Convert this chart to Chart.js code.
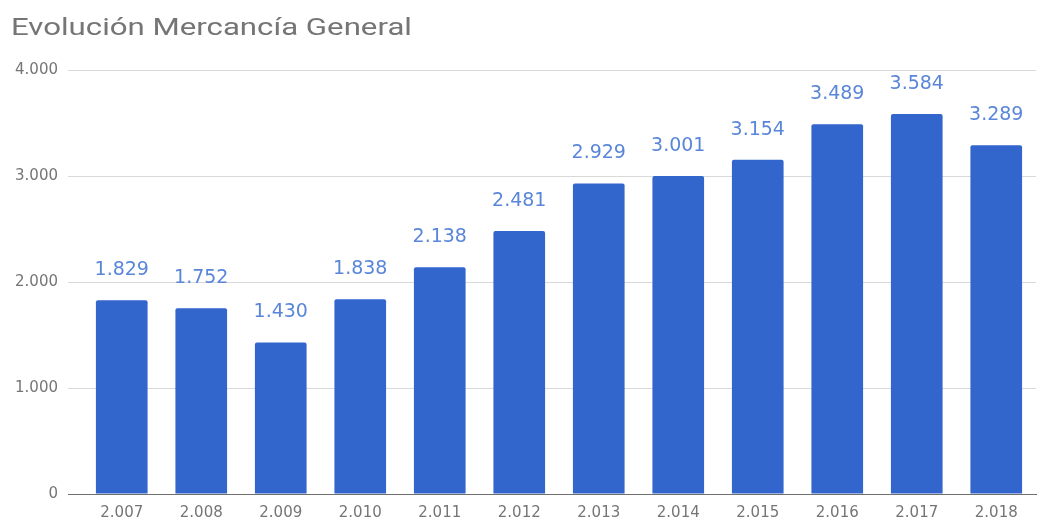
<!DOCTYPE html>
<html lang="es">
<head>
<meta charset="utf-8">
<title>Evolución Mercancía General</title>
<script src="https://cdn.jsdelivr.net/npm/chart.js@4/dist/chart.umd.min.js"></script>
<style>
    html, body { margin: 0; padding: 0; background: #fff; }
    #wrap { position: relative; width: 1037px; height: 518px; }
    #chartTitle {
        position: absolute;
        left: 11px;
        top: 15px;
        margin: 0;
        font: normal 24px/24px Roboto, sans-serif;
        color: #757575;
        white-space: nowrap;
        transform: scaleX(1.3);
        transform-origin: left top;
    }
</style>
</head>
<body>
<div id="wrap">
    <h1 id="chartTitle">Evolución Mercancía General</h1>
    <canvas id="mercanciaChart" width="1037" height="518"></canvas>
</div>
<script>

//Years and tonnage values
const years = [2007, 2008, 2009, 2010, 2011, 2012, 2013, 2014, 2015, 2016, 2017, 2018];
const tonnage = [1829, 1752, 1430, 1838, 2138, 2481, 2929, 3001, 3154, 3489, 3584, 3289];

//Y axis ticks
const yTicks = [0, 1000, 2000, 3000, 4000];

//Colours
const barColor = "#3366cc";
const labelColor = "#5a86d9";
const textGray = "#757575";

//Thousands separator with a dot (2007 -> 2.007)
function formatNumber(n) {

    return String(n).replace(/\B(?=(\d{3})+(?!\d))/g, ".");

}

//Value labels over each bar
const valueLabels = {

    id: "valueLabels",

    afterDatasetsDraw(chart) {

        const ctx = chart.ctx;
        const meta = chart.getDatasetMeta(0);

        ctx.save();
        ctx.font = "19px 'DejaVu Sans'";
        ctx.fillStyle = labelColor;
        ctx.textAlign = "center";
        ctx.textBaseline = "middle";

        meta.data.forEach((bar, i) => {

            ctx.fillText(formatNumber(tonnage[i]), bar.x, bar.y - 30);

        });

        ctx.restore();

    }

};

new Chart(document.querySelector("#mercanciaChart"), {

    type: "bar",

    data: {

        labels: years.map(formatNumber),

        datasets: [{

            label: "Mercancía General",

            data: tonnage,

            backgroundColor: barColor,

            borderRadius: 2,

            borderSkipped: "bottom",

            categoryPercentage: 1,

            barPercentage: 0.65

        }]

    },

    options: {

        responsive: false,

        animation: false,

        layout: {

            padding: { left: 10, right: 1, top: 70, bottom: 0 }

        },

        plugins: {

            legend: { display: false },

            tooltip: { enabled: false }

        },

        scales: {

            x: {

                grid: { display: false, drawTicks: false },

                border: { display: true, color: "#6f6f6f", width: 1 },

                ticks: {

                    color: textGray,

                    padding: 10,

                    font: { family: "'DejaVu Sans'", size: 15 }

                },

                afterFit(scale) {

                    scale.height = 24;

                }

            },

            y: {

                min: 0,

                max: 4000,

                afterBuildTicks(scale) {

                    scale.ticks = yTicks.map(v => ({ value: v }));

                },

                grid: {

                    color: c => c.tick && c.tick.value === 0 ? "#6f6f6f" : "#d9d9d9",

                    tickLength: 14,

                    drawTicks: true

                },

                border: { display: false },

                ticks: {

                    color: textGray,

                    padding: 10,

                    font: { family: "'DejaVu Sans'", size: 15 },

                    callback: v => formatNumber(v)

                },

                afterFit(scale) {

                    scale.width = 72;

                }

            }

        }

    },

    plugins: [valueLabels]

});

</script>
</body>
</html>
